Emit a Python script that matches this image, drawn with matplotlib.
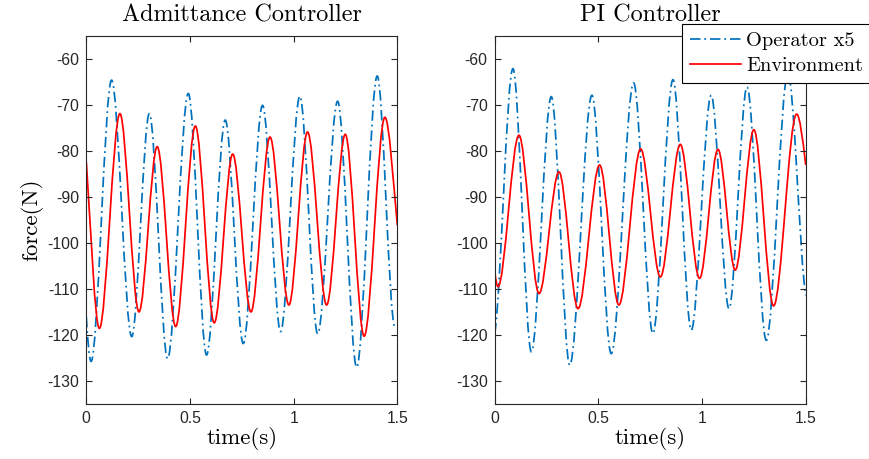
import numpy as np
import matplotlib
matplotlib.use("Agg")
import matplotlib.pyplot as plt
from matplotlib.path import Path
from matplotlib.patches import PathPatch
from matplotlib.lines import Line2D

plt.rcParams["axes.unicode_minus"] = False
plt.rcParams["lines.scale_dashes"] = False

# Extrema (first/last entries are the values at the plot edges).
# Admittance controller
adm_op_t = [0, 0.023, 0.122, 0.219, 0.304, 0.392, 0.492, 0.580, 0.670, 0.757,
            0.850, 0.937, 1.030, 1.116, 1.212, 1.304, 1.403, 1.488, 1.5]
adm_op_f = [-116.1, -125.8, -64.5, -120.4, -71.8, -125.2, -67.4, -124.4, -73.2, -121.9,
            -70.0, -119.3, -68.0, -119.8, -69.1, -127.1, -63.6, -118.2, -117.9]
adm_env_t = [0, 0.063, 0.162, 0.254, 0.342, 0.431, 0.526, 0.617, 0.706, 0.794,
             0.886, 0.977, 1.067, 1.159, 1.249, 1.340, 1.440, 1.5]
adm_env_f = [-82.3, -118.6, -71.8, -115.0, -79.0, -118.2, -74.5, -117.4, -80.6, -115.0,
             -76.9, -113.5, -75.8, -113.5, -76.3, -120.3, -72.6, -96.1]

# PI controller
pi_op_t = [0, 0.088, 0.177, 0.273, 0.362, 0.469, 0.562, 0.670, 0.763, 0.860,
           0.948, 1.044, 1.130, 1.217, 1.310, 1.414, 1.5]
pi_op_f = [-119.7, -62.0, -123.7, -68.1, -126.6, -67.8, -124.1, -65.1, -119.7, -64.4,
           -119.0, -67.8, -114.3, -66.0, -121.2, -63.0, -111.4]
pi_env_t = [0, 0.016, 0.117, 0.214, 0.310, 0.402, 0.506, 0.599, 0.704, 0.799,
            0.895, 0.988, 1.077, 1.160, 1.250, 1.345, 1.456, 1.5]
pi_env_f = [-106.0, -109.5, -76.5, -111.0, -84.5, -114.3, -83.0, -113.5, -79.5, -107.4,
            -78.5, -107.7, -79.6, -105.9, -75.3, -113.7, -71.9, -83.0]

titles = ["Admittance Controller", "PI Controller"]
labels = ["Operator x5", "Environment"]
yticks = [-130, -120, -110, -100, -90, -80, -70, -60]
xticks = [0, 0.5, 1, 1.5]
xticklabels = ["0", "0.5", "1", "1.5"]

BLUE = "#0072BD"
RED = "#FF0000"
AX_COL = "#262626"
DASHDOT = (0, (7.5, 2.8, 1.3, 2.8))
LW = 1.25
SERIF = "cmr10"


def _edge_slope(v_edge, v_ext, dt, h):
    """Slope at a plot edge, treating the edge as lying on a half-wave of length h."""
    u = min(dt / h, 1.0)
    S = 3 * u**2 - 2 * u**3
    dS = 6 * u * (1 - u)
    return (v_edge - v_ext) / S * dS / h


def wave_path(t, f):
    """Bezier path through the extrema (flat tangents), smooth like the sampled signal."""
    t = np.asarray(t, float)
    f = np.asarray(f, float)
    h = np.mean(np.diff(t[1:-1]))
    m = np.zeros_like(t)
    m[0] = -_edge_slope(f[0], f[1], t[1] - t[0], h)
    m[-1] = _edge_slope(f[-1], f[-2], t[-1] - t[-2], h)
    verts, codes = [(t[0], f[0])], [Path.MOVETO]
    for i in range(len(t) - 1):
        dt = t[i + 1] - t[i]
        verts += [(t[i] + dt / 3, f[i] + m[i] * dt / 3),
                  (t[i + 1] - dt / 3, f[i + 1] - m[i + 1] * dt / 3),
                  (t[i + 1], f[i + 1])]
        codes += [Path.CURVE4] * 3
    return Path(verts, codes)


fig = plt.figure(figsize=(8.7, 4.59), dpi=100)
ax_l = fig.add_axes([0.0992, 0.1205, 0.3575, 0.8])
ax_r = fig.add_axes([0.5686, 0.1205, 0.3575, 0.8])

series = [(ax_l, adm_op_t, adm_op_f, adm_env_t, adm_env_f),
          (ax_r, pi_op_t, pi_op_f, pi_env_t, pi_env_f)]

for (ax, ot, of, et, ef), title in zip(series, titles):
    ax.add_patch(PathPatch(wave_path(ot, of), fill=False, edgecolor=BLUE, lw=LW,
                           linestyle=DASHDOT, joinstyle="round"))
    ax.add_patch(PathPatch(wave_path(et, ef), fill=False, edgecolor=RED, lw=LW,
                           joinstyle="round"))
    ax.set_xlim(0, 1.5)
    ax.set_ylim(-135, -55)
    ax.set_xticks(xticks)
    ax.set_xticklabels(xticklabels)
    ax.set_yticks(yticks)
    ax.tick_params(direction="in", top=True, right=True, length=4, width=0.8,
                   colors=AX_COL, labelsize=11.3, pad=5)
    for lab in ax.get_xticklabels() + ax.get_yticklabels():
        lab.set_fontfamily("Liberation Sans")
    for sp in ax.spines.values():
        sp.set_color(AX_COL)
        sp.set_linewidth(0.8)
    ax.set_title(title, fontfamily=SERIF, fontsize=17.4, pad=10.5, color="k")
    ax.set_xlabel("time(s)", fontfamily=SERIF, fontsize=16.5, labelpad=1)

ax_l.set_ylabel("force(N)", fontfamily=SERIF, fontsize=16.5, labelpad=3)

handles = [Line2D([], [], color=BLUE, lw=LW, linestyle=DASHDOT),
           Line2D([], [], color=RED, lw=LW)]
leg = fig.legend(handles, labels, loc="upper left", bbox_to_anchor=(0.7836, 0.9477),
                 borderaxespad=0, fancybox=False, framealpha=1, edgecolor="k",
                 prop={"family": SERIF, "size": 14.7}, handlelength=2.5,
                 handletextpad=0.25, labelspacing=0.3, borderpad=0.4)
leg.get_frame().set_linewidth(0.8)

fig.savefig("out.png", dpi=100)
